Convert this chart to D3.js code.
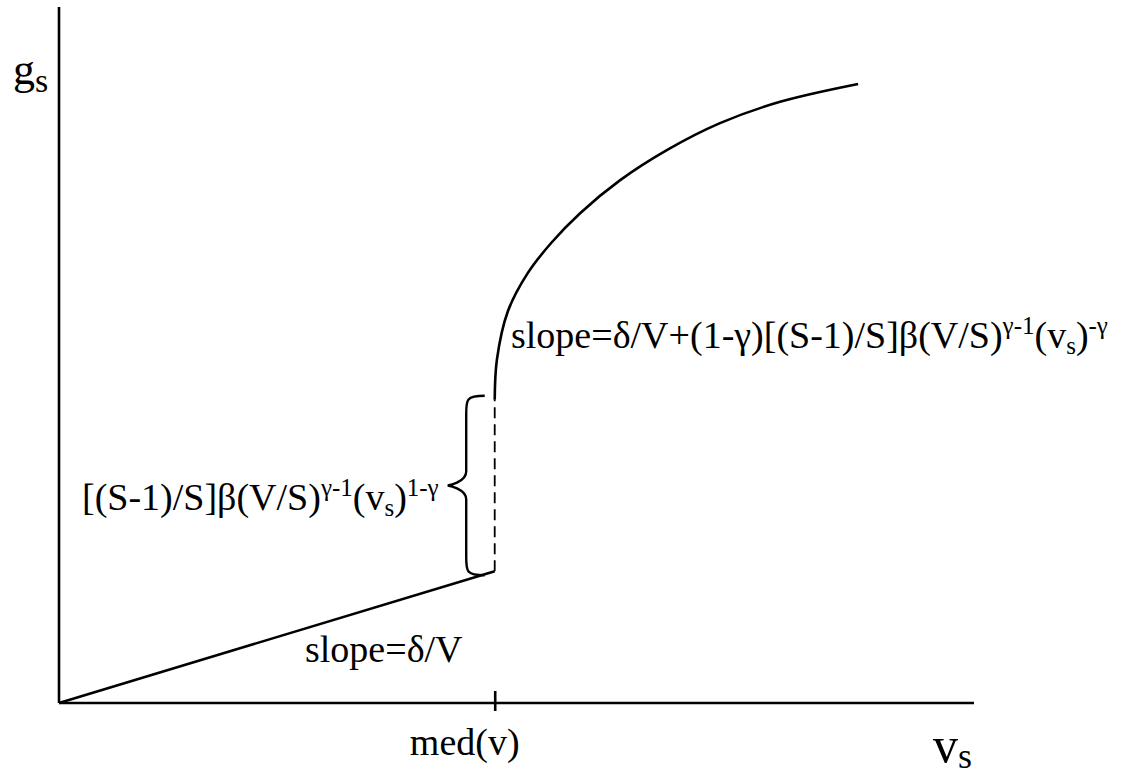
<!DOCTYPE html>
<html>
<head>
<meta charset="utf-8">
<script src="https://cdn.jsdelivr.net/npm/d3@7"></script>
<style>
	body { margin: 0; background: #fff; }
</style>
</head>
<body>
<svg id="chart" width="1122" height="778"></svg>
<script>
// values (arbitrary units)
var medV = 10;
var lowerX = [0, 10];
var lowerY = [0, 3.03];
var jumpY = [3.03, 6.97];
var upperX = [10.0, 10.05, 10.3, 10.75, 11.3, 11.96, 12.88, 13.95, 15.17, 16.55, 18.34];
var upperY = [6.97, 7.89, 9.0, 9.87, 10.58, 11.26, 12.02, 12.71, 13.33, 13.82, 14.23];
var tickLabels = ["med(v)"];

var serif = "'Liberation Serif', 'DejaVu Serif', 'Times New Roman', Times, serif";

var svg = d3.select("#chart")
	.attr("font-family", serif);

var x = d3.scaleLinear().domain([0, 21]).range([59, 974]);
var y = d3.scaleLinear().domain([0, 16]).range([703, 7]);

var stroke = 2.6;

// axes
var xAxis = svg.append("g")
	.attr("transform", "translate(0," + y(0) + ")")
	.call(d3.axisBottom(x).tickValues([medV]).tickSize(8).tickFormat(function() { return ""; }));
xAxis.select(".domain").attr("d", "M" + x(0) + ",0H" + x(21)).attr("stroke-width", stroke);
xAxis.selectAll(".tick line").attr("y1", -12).attr("y2", 8).attr("stroke-width", stroke);

var yAxis = svg.append("g")
	.attr("transform", "translate(" + x(0) + ",0)")
	.call(d3.axisLeft(y).tickValues([]));
yAxis.select(".domain").attr("d", "M0," + y(16) + "V" + y(0)).attr("stroke-width", stroke);

// lower segment
var line = d3.line()
	.x(function(d) { return x(d[0]); })
	.y(function(d) { return y(d[1]); });

svg.append("path")
	.datum(d3.zip(lowerX, lowerY))
	.attr("d", line)
	.attr("fill", "none")
	.attr("stroke", "#000")
	.attr("stroke-width", stroke);

// jump (dashed)
svg.append("path")
	.datum([[medV, jumpY[0]], [medV, jumpY[1]]])
	.attr("d", line)
	.attr("fill", "none")
	.attr("stroke", "#000")
	.attr("stroke-width", 1.8)
	.attr("stroke-dasharray", "11,6");

// upper curve
svg.append("path")
	.datum(d3.zip(upperX, upperY))
	.attr("d", line.curve(d3.curveCatmullRom.alpha(0.5)))
	.attr("fill", "none")
	.attr("stroke", "#000")
	.attr("stroke-width", stroke);

// brace left of the jump
var bx = x(medV) - 10, by0 = y(jumpY[1]) - 4, by1 = y(jumpY[0]) + 4;
var bm = (by0 + by1) / 2, bw = 37;
var bc = bx - bw / 2;
var brace = "M" + bx + "," + by0 +
	"C" + (bc) + "," + by0 + " " + bc + "," + (by0 + 4) + " " + bc + "," + (by0 + 18) +
	"L" + bc + "," + (bm - 14) +
	"C" + bc + "," + (bm - 3) + " " + (bx - bw) + "," + bm + " " + (bx - bw) + "," + bm +
	"C" + (bx - bw) + "," + bm + " " + bc + "," + (bm + 3) + " " + bc + "," + (bm + 14) +
	"L" + bc + "," + (by1 - 18) +
	"C" + bc + "," + (by1 - 4) + " " + bc + "," + by1 + " " + bx + "," + by1;
svg.append("path")
	.attr("d", brace)
	.attr("fill", "none")
	.attr("stroke", "#000")
	.attr("stroke-width", 2.4);

// labels
function label(px, py, size) {
	return svg.append("text")
		.attr("x", px).attr("y", py)
		.attr("font-family", serif)
		.attr("font-size", size)
		.attr("fill", "#000");
}

function rich(sel, parts) {
	parts.forEach(function(p) {
		var t = sel.append("tspan").text(p[0]);
		if (p[1] == "sup") t.attr("font-size", 25).attr("baseline-shift", "55%");
		if (p[1] == "sub") t.attr("font-size", 25).attr("baseline-shift", "-25%");
	});
}

label(13, 84, 44).call(function(t) {
	t.append("tspan").text("g");
	t.append("tspan").attr("font-size", 34).attr("dy", 8).text("s");
});

label(933, 762, 50).call(function(t) {
	t.append("tspan").text("v");
	t.append("tspan").attr("font-size", 36).attr("dy", 6).text("s");
});

label(x(medV) - 30, 755, 38).attr("text-anchor", "middle").text(tickLabels[0]);

label(305, 662, 38).text("slope=δ/V");

label(82, 510, 38)
	.call(rich, [["[(S-1)/S]β(V/S)"], ["γ-1", "sup"], ["(v"], ["s", "sub"], [")"], ["1-γ", "sup"]]);

label(511, 348, 38)
	.call(rich, [["slope=δ/V+(1-γ)[(S-1)/S]β(V/S)"], ["γ-1", "sup"], ["(v"], ["s", "sub"], [")"], ["-γ", "sup"]]);
</script>
</body>
</html>
